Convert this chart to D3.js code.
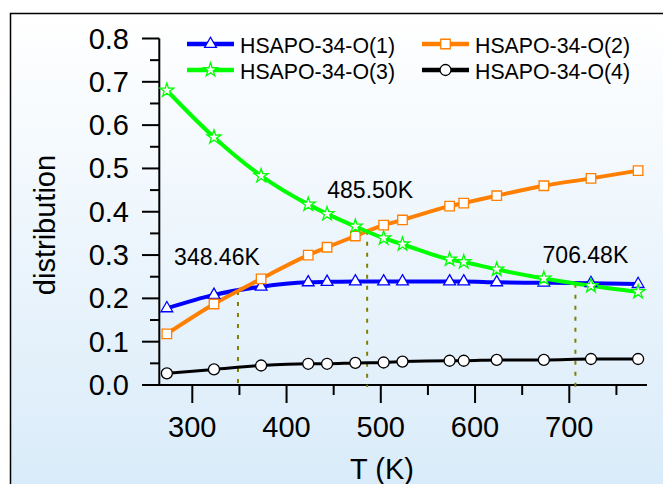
<!DOCTYPE html>
<html>
<head>
<meta charset="utf-8">
<script src="https://cdn.jsdelivr.net/npm/d3@7"></script>
<style>
  body { margin: 0; background: #fff; }
  svg { display: block; font-family: "Liberation Sans", Arial, sans-serif; }
</style>
</head>
<body>
<div id="chart"></div>
<script>
const width = 663;
const height = 484;

// temperatures (K)
const temps = [273, 323, 373, 423, 443, 473, 503, 523, 573, 588, 623, 673, 723, 773];

const o1 = [0.177, 0.208, 0.227, 0.237, 0.238, 0.239, 0.239, 0.239, 0.239, 0.239, 0.237, 0.236, 0.235, 0.233];
const o2 = [0.118, 0.187, 0.245, 0.300, 0.318, 0.344, 0.369, 0.381, 0.413, 0.420, 0.437, 0.460, 0.477, 0.495];
const o3 = [0.680, 0.572, 0.483, 0.417, 0.395, 0.366, 0.339, 0.325, 0.290, 0.284, 0.267, 0.246, 0.229, 0.215];
const o4 = [0.027, 0.036, 0.045, 0.049, 0.049, 0.051, 0.052, 0.054, 0.056, 0.056, 0.058, 0.058, 0.060, 0.060];

const seriesNames = ["HSAPO-34-O(1)", "HSAPO-34-O(2)", "HSAPO-34-O(3)", "HSAPO-34-O(4)"];

// crossing temperatures and the value where the curves meet
const crossT = [348.46, 485.50, 706.48];
const crossV = [0.217, 0.356, 0.234];
const crossLabels = ["348.46K", "485.50K", "706.48K"];

const xTicks = [300, 400, 500, 600, 700];
const yTicks = [0, 0.1, 0.2, 0.3, 0.4, 0.5, 0.6, 0.7, 0.8];

const series = [
  { name: seriesNames[0], values: o1, color: "#0000ff", shape: "triangle", lw: 4 },
  { name: seriesNames[1], values: o2, color: "#ff7f00", shape: "square", lw: 4 },
  { name: seriesNames[2], values: o3, color: "#00ff00", shape: "star", lw: 4 },
  { name: seriesNames[3], values: o4, color: "#000000", shape: "circle", lw: 3 }
];

const x = d3.scaleLinear().domain([300, 700]).range([192.3, 569.3]);
const y = d3.scaleLinear().domain([0, 0.8]).range([385, 38.5]);

const svg = d3.select("#chart")
  .append("svg")
  .attr("width", width)
  .attr("height", height);

const defs = svg.append("defs");
const grad = defs.append("linearGradient")
  .attr("id", "bg")
  .attr("x1", 0).attr("y1", 0).attr("x2", 0).attr("y2", 1);
grad.append("stop").attr("offset", "0%").attr("stop-color", "#ffffff");
grad.append("stop").attr("offset", "100%").attr("stop-color", "#d7eaf9");

svg.append("rect")
  .attr("x", 10.5)
  .attr("y", 13.5)
  .attr("width", 700)
  .attr("height", 500)
  .attr("fill", "url(#bg)")
  .attr("stroke", "#000")
  .attr("stroke-width", 1.5);

const yAxisX = 159.3;

// axes
const xAxis = svg.append("g").attr("transform", "translate(0," + y(0) + ")");
xAxis.append("line")
  .attr("x1", 142).attr("x2", 647)
  .attr("stroke", "#000").attr("stroke-width", 2);
xAxis.selectAll(".major")
  .data(xTicks)
  .enter()
  .append("line")
  .attr("x1", function(d) { return x(d); })
  .attr("x2", function(d) { return x(d); })
  .attr("y1", 0).attr("y2", 18)
  .attr("stroke", "#000").attr("stroke-width", 2);
xAxis.selectAll(".minor")
  .data(d3.range(350, 800, 100))
  .enter()
  .append("line")
  .attr("x1", function(d) { return x(d); })
  .attr("x2", function(d) { return x(d); })
  .attr("y1", 0).attr("y2", 10)
  .attr("stroke", "#000").attr("stroke-width", 2);
xAxis.selectAll("text")
  .data(xTicks)
  .enter()
  .append("text")
  .attr("x", function(d) { return x(d); })
  .attr("y", 52)
  .attr("text-anchor", "middle")
  .style("font-size", "29px")
  .text(function(d) { return d; });

const yAxis = svg.append("g");
yAxis.append("line")
  .attr("x1", yAxisX).attr("x2", yAxisX)
  .attr("y1", y(0)).attr("y2", y(0.8))
  .attr("stroke", "#000").attr("stroke-width", 2);
yAxis.selectAll(".major")
  .data(yTicks)
  .enter()
  .append("line")
  .attr("x1", 142).attr("x2", yAxisX)
  .attr("y1", function(d) { return y(d); })
  .attr("y2", function(d) { return y(d); })
  .attr("stroke", "#000").attr("stroke-width", 2);
yAxis.selectAll(".minor")
  .data(d3.range(0.05, 0.8, 0.1))
  .enter()
  .append("line")
  .attr("x1", 150).attr("x2", yAxisX)
  .attr("y1", function(d) { return y(d); })
  .attr("y2", function(d) { return y(d); })
  .attr("stroke", "#000").attr("stroke-width", 2);
yAxis.selectAll("text")
  .data(yTicks)
  .enter()
  .append("text")
  .attr("x", 129)
  .attr("y", function(d) { return y(d) + 10; })
  .attr("text-anchor", "end")
  .style("font-size", "29px")
  .text(function(d) { return d.toFixed(1); });

svg.append("text")
  .attr("x", 382)
  .attr("y", 479)
  .attr("text-anchor", "middle")
  .style("font-size", "29px")
  .text("T (K)");

svg.append("text")
  .attr("transform", "translate(55,225) rotate(-90)")
  .attr("text-anchor", "middle")
  .style("font-size", "29px")
  .text("distribution");

// crossing markers
crossT.forEach(function(t, i) {
  svg.append("line")
    .attr("x1", x(t)).attr("x2", x(t))
    .attr("y1", y(crossV[i])).attr("y2", y(0) + 2)
    .attr("stroke", "#808000")
    .attr("stroke-width", 2)
    .attr("stroke-dasharray", "4,7");
});

const labelDx = [-21, 3, 10];
const labelDy = [-26, -33, -21];
crossT.forEach(function(t, i) {
  svg.append("text")
    .attr("x", x(t) + labelDx[i])
    .attr("y", y(crossV[i]) + labelDy[i])
    .attr("text-anchor", "middle")
    .style("font-size", "23px")
    .text(crossLabels[i]);
});

const symbolType = {
  triangle: d3.symbolTriangle,
  square: d3.symbolSquare,
  star: d3.symbolStar,
  circle: d3.symbolCircle
};
const symbolSize = { triangle: 60, square: 90, star: 60, circle: 95 };

function drawMarker(g, s, cx, cy) {
  g.append("path")
    .attr("transform", "translate(" + cx + "," + cy + ")")
    .attr("d", d3.symbol().type(symbolType[s.shape]).size(symbolSize[s.shape])())
    .attr("fill", "#fff")
    .attr("stroke", s.color)
    .attr("stroke-width", 1.3);
}

const line = d3.line()
  .x(function(d, i) { return x(temps[i]); })
  .y(function(d) { return y(d); })
  .curve(d3.curveMonotoneX);

// draw lines then markers, series order as in legend
series.forEach(function(s) {
  svg.append("path")
    .datum(s.values)
    .attr("d", line)
    .attr("fill", "none")
    .attr("stroke", s.color)
    .attr("stroke-width", s.lw)
    .attr("stroke-linejoin", "round");
});
series.forEach(function(s) {
  const g = svg.append("g");
  s.values.forEach(function(v, i) {
    drawMarker(g, s, x(temps[i]), y(v));
  });
});

// legend
const legendX = [187, 422];
const legendY = [44, 70];
series.forEach(function(s, i) {
  const lx = legendX[i % 2];
  const ly = legendY[Math.floor(i / 2)];
  const g = svg.append("g");
  g.append("line")
    .attr("x1", lx).attr("x2", lx + 47)
    .attr("y1", ly).attr("y2", ly)
    .attr("stroke", s.color)
    .attr("stroke-width", 4.5);
  drawMarker(g, s, lx + 23.5, ly);
  g.append("text")
    .attr("x", lx + 53)
    .attr("y", ly + 8.5)
    .style("font-size", "21.3px")
    .text(s.name);
});
</script>
</body>
</html>
